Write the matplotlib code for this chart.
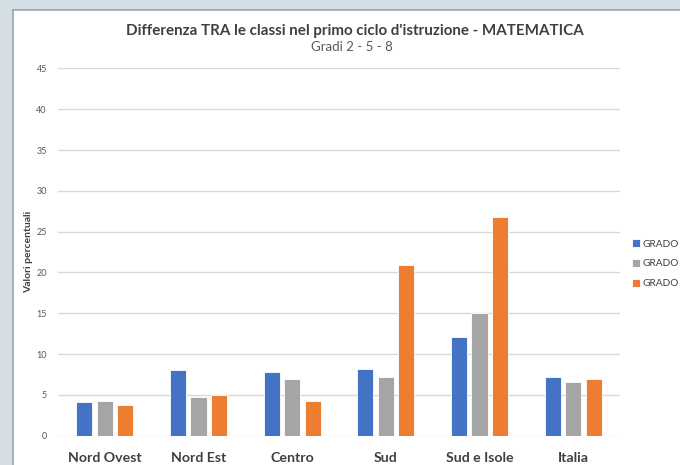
import numpy as np
import matplotlib.pyplot as plt
from matplotlib.patches import Rectangle
from matplotlib.lines import Line2D

# Aree geografiche e differenze tra le classi (valori percentuali)
aree = ['Nord Ovest', 'Nord Est', 'Centro', 'Sud', 'Sud e Isole', 'Italia']
grado_2 = [4.1, 8.0, 7.8, 8.2, 12.1, 7.2]
grado_5 = [4.2, 4.8, 6.9, 7.2, 15.0, 6.6]
grado_8 = [3.8, 5.0, 4.3, 20.9, 26.8, 7.0]
serie_nomi = ['GRADO', 'GRADO', 'GRADO']
colori = ['#4472C4', '#A5A5A5', '#ED7D31']

plt.rcParams['font.family'] = ['Lato', 'DejaVu Sans']

fig = plt.figure(figsize=(6.8, 4.65), dpi=100)
fig.patch.set_facecolor('#D3DFE5')

# pannello bianco del grafico con bordo sottile
W, H = 680, 465
fig.patches.append(Rectangle((13 / W, 0), 1, 1 - 10 / H, transform=fig.transFigure,
                             facecolor='white', edgecolor='none', zorder=-10))
fig.lines.append(Line2D([13 / W, 13 / W], [0, 1 - 10 / H], transform=fig.transFigure,
                        color='#98A4AA', lw=1.2, zorder=-5))
fig.lines.append(Line2D([13 / W, 1], [1 - 10 / H, 1 - 10 / H], transform=fig.transFigure,
                        color='#98A4AA', lw=1.2, zorder=-5))

ax = fig.add_axes([58 / W, (H - 435.7) / H, (620 - 58) / W, (435.7 - 68.5) / H])
ax.set_facecolor('none')

x = np.arange(len(aree))
larghezza = 0.172
passo = 0.219
for i, (valori, col, nome) in enumerate(zip([grado_2, grado_5, grado_8], colori, serie_nomi)):
    ax.bar(x + (i - 1) * passo, valori, width=larghezza, color=col,
           edgecolor='white', linewidth=0.6, label=nome, zorder=3)

ax.set_xlim(-0.5, len(aree) - 0.5)
ax.set_ylim(0, 45)
ax.set_yticks(range(0, 46, 5))
ax.grid(axis='y', color='#D9D9D9', linewidth=1, zorder=0)
for s in ax.spines.values():
    s.set_visible(False)
ax.tick_params(axis='both', length=0)
ax.tick_params(axis='y', labelsize=6.5, labelcolor='#595959', pad=8)
ax.set_xticks(x)
ax.set_xticklabels(aree, fontsize=10.2, fontweight='bold', color='#404040')
ax.tick_params(axis='x', pad=12)

ax.set_ylabel('Valori percentuali', fontsize=7.5, fontweight='bold', color='#404040')
ax.yaxis.set_label_coords(-0.045, 0.5)

fig.text(355 / W, 1 - 31 / H, "Differenza TRA le classi nel primo ciclo d'istruzione - MATEMATICA",
         ha='center', va='center', fontsize=10.9, fontweight='bold', color='#404040')
fig.text(352 / W, 1 - 47 / H, 'Gradi 2 - 5 - 8', ha='center', va='center',
         fontsize=9.5, color='#595959')

ax.legend(loc='center left', bbox_to_anchor=(1.0, 0.468), frameon=False, fontsize=7.3,
          handlelength=0.75, handleheight=0.75, handletextpad=0.3, labelspacing=1.05,
          labelcolor='#404040', borderaxespad=0.8)

fig.savefig('out.png', dpi=100, facecolor=fig.get_facecolor())
